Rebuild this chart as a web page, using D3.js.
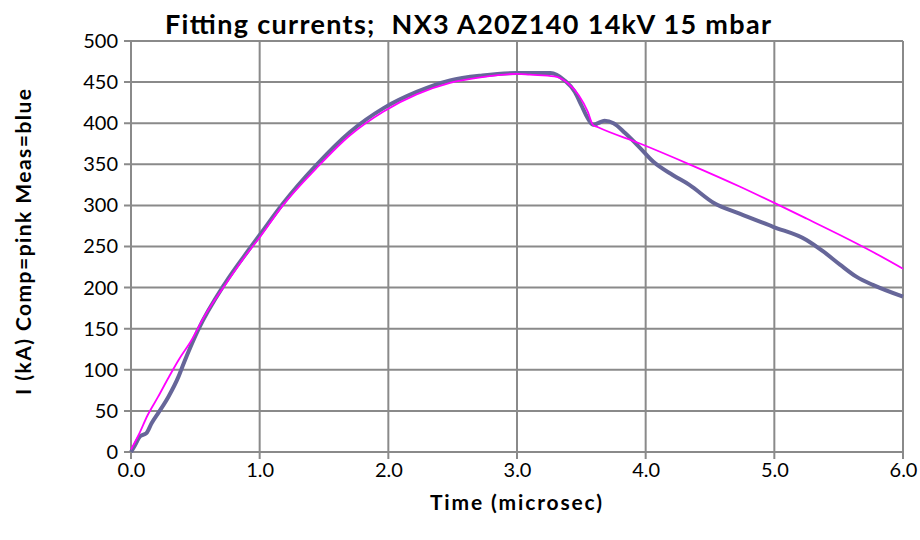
<!DOCTYPE html>
<html>
<head>
<meta charset="utf-8">
<script src="https://cdn.jsdelivr.net/npm/d3@7/dist/d3.min.js"></script>
<style>
  html, body { margin: 0; padding: 0; background: #ffffff; }
  svg { display: block; }
</style>
</head>
<body>
<svg id="chart" width="920" height="540"></svg>
<script>
// Measured current (blue), time in microseconds, current in kA
const measTime = [0, 0.03, 0.07, 0.12, 0.16, 0.21, 0.29, 0.37, 0.41, 0.52, 0.73, 0.92, 1.0, 1.18, 1.44, 1.70, 1.96, 2.22, 2.48, 2.73, 3.0, 3.26, 3.37, 3.45, 3.50, 3.55, 3.59, 3.63, 3.68, 3.75, 3.84, 3.95, 4.06, 4.21, 4.34, 4.53, 4.73, 4.99, 5.25, 5.38, 5.51, 5.64, 5.77, 6.0];
const measCurrent = [0, 8, 19, 23, 35, 47, 67, 92, 108, 148, 205, 247, 264, 302, 349, 389, 418, 438, 452, 458, 461, 461, 452, 438, 422, 406, 398, 400, 403, 400, 388, 371, 353, 337, 325, 303, 290, 274, 258, 244, 228, 213, 203, 189];

// Computed current (pink)
const compTime = [0, 0.06, 0.13, 0.21, 0.29, 0.37, 0.47, 0.57, 0.73, 0.91, 1.0, 1.18, 1.44, 1.70, 1.96, 2.22, 2.48, 2.73, 3.0, 3.1, 3.29, 3.40, 3.48, 3.55, 3.59, 3.63, 3.96, 4.34, 4.73, 5.0, 5.25, 5.51, 5.77, 6.0];
const compCurrent = [3, 21, 45, 67, 90, 112, 136, 165, 203, 243, 261, 300, 345, 385, 414, 435, 449, 456, 460, 459, 457, 448, 434, 414, 398, 395, 375, 350, 323, 303, 284, 264, 243, 223];

const xTicks = [0, 1, 2, 3, 4, 5, 6];
const yTicks = [0, 50, 100, 150, 200, 250, 300, 350, 400, 450, 500];

const titleText = "Fitting currents;  NX3 A20Z140 14kV 15 mbar";
const xTitle = "Time (microsec)";
const yTitle = "I (kA) Comp=pink Meas=blue";

const svg = d3.select("#chart");
const plot = { left: 131, right: 903, top: 41, bottom: 452 };
const font = "Lato, 'Open Sans', sans-serif";
const gridColor = "#8a8a8a";

const x = d3.scaleLinear().domain([0, 6]).range([plot.left, plot.right]);
const y = d3.scaleLinear().domain([0, 500]).range([plot.bottom, plot.top]);

// Gridlines with short tick stubs outside the plot
const grid = svg.append("g");
grid.selectAll("line.h").data(yTicks).join("line")
  .attr("x1", plot.left - 7).attr("x2", plot.right)
  .attr("y1", d => y(d)).attr("y2", d => y(d))
  .attr("stroke", gridColor).attr("stroke-width", 2);
grid.selectAll("line.v").data(xTicks).join("line")
  .attr("x1", d => x(d)).attr("x2", d => x(d))
  .attr("y1", plot.top).attr("y2", plot.bottom + 7)
  .attr("stroke", gridColor).attr("stroke-width", 2);

// Axis tick labels
const xAxis = svg.append("g")
  .attr("transform", `translate(0,${plot.bottom})`)
  .call(d3.axisBottom(x).tickValues(xTicks).tickFormat(d3.format(".1f")).tickSize(0).tickPadding(11));
const yAxis = svg.append("g")
  .attr("transform", `translate(${plot.left},0)`)
  .call(d3.axisLeft(y).tickValues(yTicks).tickSize(0).tickPadding(13));
[xAxis, yAxis].forEach(a => {
  a.select(".domain").remove();
  a.selectAll("text").attr("font-family", font).attr("font-size", 20).attr("fill", "#000");
});

// Series lines
const line = d3.line().x(d => x(d[0])).y(d => y(d[1])).curve(d3.curveMonotoneX);
const meas = d3.zip(measTime, measCurrent);
const comp = d3.zip(compTime, compCurrent);

svg.append("path").datum(meas)
  .attr("d", line).attr("fill", "none")
  .attr("stroke", "#666699").attr("stroke-width", 4).attr("stroke-linejoin", "round");
svg.append("path").datum(comp)
  .attr("d", line).attr("fill", "none")
  .attr("stroke", "#ff00ff").attr("stroke-width", 1.8).attr("stroke-linejoin", "round");

// Titles
svg.append("text")
  .attr("x", 468).attr("y", 34)
  .attr("text-anchor", "middle")
  .attr("xml:space", "preserve").style("white-space", "pre")
  .attr("font-family", font).attr("font-weight", "bold").attr("font-size", 27)
  .attr("textLength", 606).attr("lengthAdjust", "spacing")
  .text(titleText);

svg.append("text")
  .attr("x", 516).attr("y", 510)
  .attr("text-anchor", "middle")
  .attr("font-family", font).attr("font-weight", "bold").attr("font-size", 21)
  .attr("textLength", 172).attr("lengthAdjust", "spacing")
  .text(xTitle);

svg.append("text")
  .attr("transform", "translate(31,242) rotate(-90)")
  .attr("text-anchor", "middle")
  .attr("font-family", font).attr("font-weight", "bold").attr("font-size", 21)
  .attr("textLength", 306).attr("lengthAdjust", "spacing")
  .text(yTitle);
</script>
</body>
</html>
